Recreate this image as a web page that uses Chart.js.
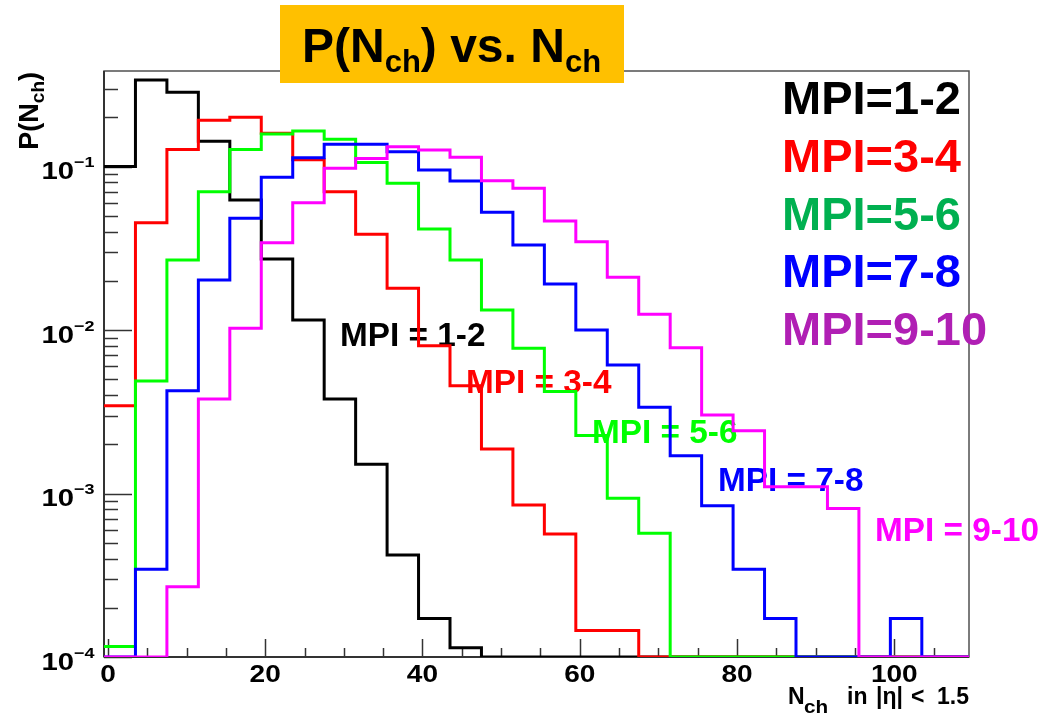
<!DOCTYPE html>
<html>
<head>
<meta charset="utf-8">
<title>P(Nch) vs. Nch</title>
<script src="https://cdn.jsdelivr.net/npm/chart.js@4.4.1/dist/chart.umd.min.js"></script>
<style>
  html, body { margin: 0; padding: 0; background: #fff; }
  #wrap { position: relative; width: 1043px; height: 721px; }
</style>
</head>
<body>
<div id="wrap"><canvas id="chart" width="1043" height="721"></canvas></div>
<script>
// histogram binning: 4 units per bin, first edge at -0.5
const binStart = -0.5;
const binWidth = 4;
const xMin = -0.5;
const xMax = 109.5;
const yMin = 1e-4;
const yMax = 0.384;

// P(Nch) per bin (0 = empty bin)
const mpi12 = [0.1, 0.338, 0.285, 0.143, 0.0624, 0.0272, 0.0115, 0.00379, 0.00151, 0.00042, 0.000172, 0.000114,
  0, 0, 0, 0, 0, 0, 0, 0, 0, 0, 0, 0, 0, 0, 0, 0];
const mpi34 = [0.00344, 0.0453, 0.127, 0.192, 0.2, 0.16, 0.11, 0.0702, 0.0385, 0.018, 0.008, 0.00456, 0.00187,
  0.000851, 0.000565, 0.000145, 0.000145, 0, 0, 0, 0, 0, 0, 0, 0, 0, 0, 0];
const mpi56 = [0.000116, 0.00488, 0.0268, 0.0702, 0.127, 0.158, 0.165, 0.147, 0.106, 0.0789, 0.0415, 0.0268,
  0.01325, 0.00773, 0.0042, 0.00226, 0.000935, 0.000571, 0, 0, 0, 0, 0, 0, 0, 0, 0, 0];
const mpi78 = [0, 0.000344, 0.00425, 0.0202, 0.0482, 0.0859, 0.113, 0.137, 0.137, 0.123, 0.0953, 0.0815, 0.0525,
  0.0331, 0.0191, 0.01, 0.00611, 0.00337, 0.0017, 0.000842, 0.000344, 0.000172, 0, 0, 0, 0.000172, 0, 0];
const mpi910 = [0, 0, 0.000269, 0.00378, 0.01024, 0.0342, 0.0601, 0.0975, 0.112, 0.132, 0.126, 0.114, 0.0819,
  0.0736, 0.0464, 0.0347, 0.021, 0.0125, 0.0078, 0.00302, 0.00242, 0.0011, 0.0011, 0.00081, 0, 0, 0, 0];

const legendNames = ["MPI=1-2", "MPI=3-4", "MPI=5-6", "MPI=7-8", "MPI=9-10"];
const curveNames = ["MPI = 1-2", "MPI = 3-4", "MPI = 5-6", "MPI = 7-8", "MPI = 9-10"];
const xTickLabels = [0, 20, 40, 60, 80, 100];
const yTickExponents = [-4, -3, -2, -1];

// styling
const lineColors = ["#000000", "#ff0000", "#00ff00", "#0000ff", "#ff00ff"];
const legendColors = ["#000000", "#ff0000", "#00b050", "#0000ff", "#b01fb4"];
const curveLabelPos = [[340, 346], [466, 393], [592, 443], [718, 491], [875, 541]];
const FONT = "'Liberation Sans', Arial, Helvetica, sans-serif";

function histPoints(values) {
  // one point per left bin edge, plus the closing right edge
  const pts = values.map((v, i) => ({ x: binStart + i * binWidth, y: Math.max(v, yMin) }));
  pts.push({ x: xMax, y: Math.max(values[values.length - 1], yMin) });
  return pts;
}

function line(ctx, x1, y1, x2, y2) {
  ctx.beginPath();
  ctx.moveTo(x1, y1);
  ctx.lineTo(x2, y2);
  ctx.stroke();
}

// text stretched horizontally around its anchor (ROOT labels are wide)
function wideText(ctx, text, x, y, sx) {
  ctx.save();
  ctx.translate(x, y);
  ctx.scale(sx, 1);
  ctx.fillText(text, 0, 0);
  ctx.restore();
}

// frame, inside ticks and axis labels in ROOT style
const rootAxes = {
  id: "rootAxes",
  beforeDatasetsDraw(chart) {
    const ctx = chart.ctx;
    const a = chart.chartArea;
    const xs = chart.scales.x;
    const ys = chart.scales.y;
    ctx.save();

    // frame
    ctx.strokeStyle = "#505050";
    ctx.lineWidth = 1.5;
    ctx.strokeRect(a.left, a.top, a.right - a.left, a.bottom - a.top);
    ctx.strokeStyle = "#333";
    ctx.lineWidth = 2;
    line(ctx, a.left, a.top, a.left, a.bottom);
    line(ctx, a.left, a.bottom, a.right, a.bottom);

    // x ticks (inside)
    ctx.lineWidth = 1.5;
    for (let v = 0; v <= xMax; v += 5) {
      const px = Math.round(xs.getPixelForValue(v)) + 0.5;
      const len = v % 20 === 0 ? 18 : 9;
      line(ctx, px, a.bottom, px, a.bottom - len);
    }
    // y ticks (inside), log decades with minor 2..9
    for (let d = -4; d <= 0; d++) {
      for (let m = 1; m <= 9; m++) {
        const v = m * Math.pow(10, d);
        if (v < yMin * 0.999 || v > yMax) continue;
        const py = Math.round(ys.getPixelForValue(v)) + 0.5;
        line(ctx, a.left, py, a.left + (m === 1 ? 28 : 14), py);
      }
    }

    // x tick labels
    ctx.fillStyle = "#000";
    ctx.font = "bold 23px " + FONT;
    ctx.textAlign = "center";
    ctx.textBaseline = "alphabetic";
    xTickLabels.forEach((v) => wideText(ctx, String(v), xs.getPixelForValue(v), 682, 1.22));

    // y tick labels 10^e
    yTickExponents.forEach((e) => {
      const py = ys.getPixelForValue(Math.pow(10, e));
      ctx.font = "bold 24px " + FONT;
      ctx.textAlign = "right";
      wideText(ctx, "10", 74, py + 12.5, 1.22);
      ctx.font = "bold 15px " + FONT;
      ctx.textAlign = "left";
      wideText(ctx, "\u2212" + Math.abs(e), 74, py + 0.5, 1.2);
    });

    // x axis title pieces, ending at the right frame edge
    ctx.textAlign = "left";
    ctx.font = "bold 23px " + FONT;
    ctx.fillText("N", 788, 704);
    ctx.fillText("in", 847, 704);
    ctx.fillText("|\u03b7|", 876, 704);
    ctx.fillText("<", 911, 704);
    ctx.textAlign = "right";
    ctx.fillText("1.5", a.right, 704);
    ctx.textAlign = "left";
    ctx.font = "bold 18px " + FONT;
    wideText(ctx, "ch", 804, 713, 1.15);

    // y axis title, rotated, ending at the top of the frame
    ctx.save();
    ctx.translate(38, a.top + 1);
    ctx.rotate(-Math.PI / 2);
    ctx.font = "bold 27px " + FONT;
    const w1 = ctx.measureText("P(N").width;
    const w3 = ctx.measureText(")").width;
    ctx.font = "bold 19px " + FONT;
    const w2 = ctx.measureText("ch").width;
    const s = -(w1 + w2 + w3);
    ctx.font = "bold 27px " + FONT;
    ctx.fillText("P(N", s, 0);
    ctx.fillText(")", s + w1 + w2, 0);
    ctx.font = "bold 19px " + FONT;
    ctx.fillText("ch", s + w1, 6);
    ctx.restore();

    // labels next to each curve
    ctx.font = "bold 33px " + FONT;
    curveNames.forEach((name, i) => {
      ctx.fillStyle = lineColors[i];
      wideText(ctx, name, curveLabelPos[i][0], curveLabelPos[i][1], 1.01);
    });
    ctx.restore();
  },
  afterDatasetsDraw(chart) {
    const ctx = chart.ctx;
    ctx.save();
    ctx.textAlign = "left";
    ctx.textBaseline = "alphabetic";

    // title box
    ctx.fillStyle = "#ffc000";
    ctx.fillRect(280, 5, 344, 78);
    ctx.fillStyle = "#000";
    let x = 302;
    const parts = [["P(N", 48, 62], ["ch", 31, 72], [") vs. N", 48, 62], ["ch", 31, 72]];
    parts.forEach(([t, size, by]) => {
      ctx.font = "bold " + size + "px " + FONT;
      ctx.fillText(t, x, by);
      x += ctx.measureText(t).width;
    });

    // legend text on the right
    ctx.font = "bold 47px " + FONT;
    legendNames.forEach((name, i) => {
      ctx.fillStyle = legendColors[i];
      ctx.fillText(name, 782, 114 + i * 57.75);
    });
    ctx.restore();
  },
};

const series = [mpi12, mpi34, mpi56, mpi78, mpi910];

new Chart(document.getElementById("chart"), {
  type: "line",
  data: {
    datasets: series.map((vals, i) => ({
      label: legendNames[i],
      data: histPoints(vals),
      borderColor: lineColors[i],
      borderWidth: 3,
      stepped: true,
      fill: false,
      pointRadius: 0,
      borderJoinStyle: "miter",
      borderCapStyle: "butt",
      order: series.length - 1 - i,
    })),
  },
  options: {
    responsive: false,
    animation: false,
    events: [],
    layout: { padding: { left: 104, right: 74, top: 71, bottom: 64 } },
    plugins: {
      legend: { display: false },
      tooltip: { enabled: false },
    },
    scales: {
      x: { type: "linear", min: xMin, max: xMax, display: false },
      y: { type: "logarithmic", min: yMin, max: yMax, display: false },
    },
  },
  plugins: [rootAxes],
});
</script>
</body>
</html>
